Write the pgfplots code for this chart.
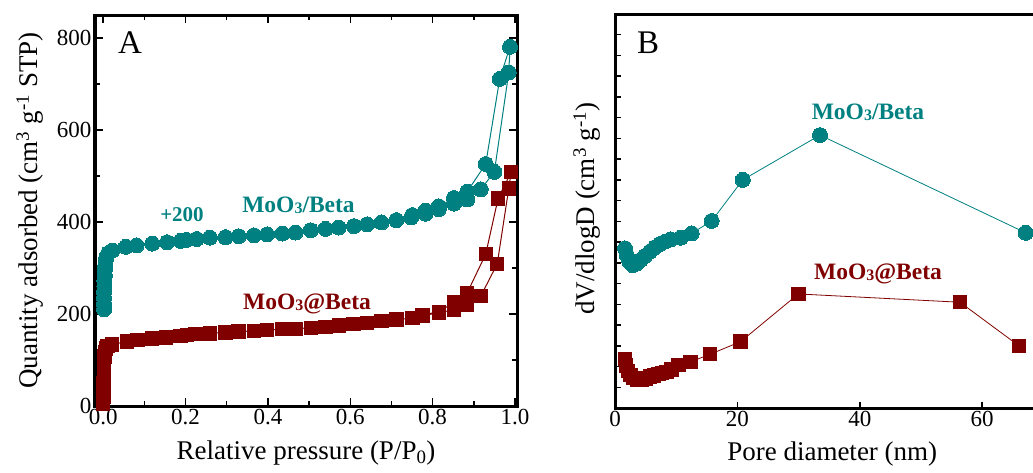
\documentclass[border=0pt]{standalone}
\usepackage{fontspec}
\setmainfont{Liberation Serif}
\usepackage{pgfplots}
\pgfplotsset{compat=1.18}
\definecolor{tealc}{RGB}{0,128,128}
\definecolor{maroonc}{RGB}{128,0,0}
\newcommand{\moo}[1]{\textbf{MoO\raisebox{-1pt}{\fontsize{16}{16}\selectfont 3}#1}}

\pgfplotstableread{
x y
0.002 210
0.002 222
0.002 235
0.002 248
0.003 260
0.003 272
0.004 284
0.004 296
0.005 306
0.006 316
0.008 325
0.012 332
0.022 338
0.055 346
0.081 349
0.119 353
0.155 356
0.188 359
0.202 361
0.227 363
0.259 366
0.297 367
0.329 369
0.366 371
0.398 373
0.435 375
0.467 377
0.504 382
0.540 385
0.572 388
0.609 391
0.641 395
0.676 399
0.712 404
0.748 410
0.783 418
0.815 428
0.852 440
0.884 449
0.917 471
0.950 509
0.985 725
0.988 781
0.963 711
0.929 526
0.884 466
0.852 452
0.815 434
0.783 425
0.751 415
}\tabAbeta

\pgfplotstableread{
x y
0.000 5
0.0005 20
0.001 35
0.001 50
0.0015 65
0.002 80
0.002 95
0.003 108
0.004 118
0.006 125
0.010 130
0.022 134
0.058 140
0.083 143
0.119 147
0.153 149
0.188 152
0.204 154
0.224 156
0.259 158
0.297 160
0.329 162
0.366 163
0.398 165
0.435 167
0.467 168
0.504 170
0.540 172
0.572 175
0.608 178
0.641 181
0.676 185
0.712 188
0.751 191
0.775 196
0.815 203
0.852 209
0.884 220
0.917 239
0.957 309
0.985 473
0.991 509
0.959 451
0.929 330
0.884 246
0.852 225
0.815 205
0.775 198
}\tabAat

\pgfplotstableread{
x y
1.63 7.70
1.91 7.38
2.34 7.06
2.89 6.89
3.54 6.97
4.19 7.14
4.90 7.33
5.72 7.54
6.54 7.75
7.35 7.91
8.17 8.02
9.10 8.13
10.73 8.21
12.53 8.42
15.8 9.02
20.87 11.0
33.5 13.16
67.1 8.45
}\tabBbeta

\pgfplotstableread{
x y
1.63 2.35
1.80 2.05
2.10 1.78
2.50 1.58
3.00 1.45
3.60 1.38
4.36 1.35
5.00 1.42
5.72 1.51
6.40 1.57
7.08 1.64
7.70 1.69
8.44 1.75
9.20 1.85
10.35 2.07
12.36 2.23
15.52 2.59
20.53 3.20
29.96 5.50
56.37 5.10
66.0 3.00
}\tabBat

\begin{document}
\begin{tikzpicture}
\pgfplotsset{
  common/.style={
    scale only axis,
    axis line style={line width=3pt},
    tick style={black, line width=1.5pt},
    tick align=inside,
    major tick length=8pt, minor tick length=5pt,
    tick label style={font=\fontsize{23}{23}\selectfont},
    label style={font=\fontsize{27}{27}\selectfont},
    /pgf/number format/assume math mode=true,
    clip=false,
  },
  tealplot/.style={color=tealc, line width=1pt, mark=*, mark size=7.5pt, mark options={fill=tealc, draw=tealc, line width=0pt}},
  redplot/.style={color=maroonc, line width=1pt, mark=square*, mark size=6.7pt, mark options={fill=maroonc, draw=maroonc, line width=0pt}},
}
\begin{axis}[common,
  at={(95pt,-406pt)}, anchor=south west, width=422pt, height=391pt,
  xmin=-0.02, xmax=1.005, ymin=0, ymax=850,
  xtick={0,0.2,0.4,0.6,0.8,1}, minor xtick={0.1,0.3,0.5,0.7,0.9},
  ytick={0,200,400,600,800}, minor ytick={100,300,500,700},
  xticklabel style={/pgf/number format/.cd, fixed, fixed zerofill, precision=1},
  xlabel={Relative pressure (P/P\textsubscript{0})},
  ylabel={Quantity adsorbed (cm\textsuperscript{3} g\textsuperscript{-1} STP)},
  xlabel style={at={(axis description cs:0.5,-0.138)}, anchor=base},
  ylabel style={at={(axis description cs:-0.154,0.5)}, anchor=center},
]
\addplot[tealplot] table {\tabAbeta};
\addplot[redplot] table {\tabAat};
\end{axis}
\begin{axis}[common,
  at={(615pt,-408pt)}, anchor=south west, width=434.5pt, height=394pt,
  xmin=0, xmax=71, ymin=0, ymax=19,
  major tick length=6pt,
  xtick={0,20,40,60}, ytick={1,2,...,18}, yticklabels={},
  xtick pos=bottom, ytick pos=left,
  xlabel={Pore diameter (nm)},
  ylabel={dV/dlogD (cm\textsuperscript{3} g\textsuperscript{-1})},
  xlabel style={at={(axis description cs:0.5,-0.132)}, anchor=base},
  ylabel style={at={(axis description cs:-0.0644,0.506)}, anchor=center},
]
\addplot[tealplot, line width=0.8pt] table {\tabBbeta};
\addplot[redplot, line width=0.8pt] table {\tabBat};
\end{axis}
\node[inner sep=0, font=\fontsize{33}{33}\selectfont] at (130pt,-42.5pt) {A};
\node[inner sep=0, font=\fontsize{33}{33}\selectfont] at (648pt,-43pt) {B};
\node[inner sep=0, text=tealc, font=\fontsize{21}{21}\selectfont\bfseries] at (182pt,-215pt) {+200};
\node[inner sep=0, text=tealc, font=\fontsize{23.5}{23.5}\selectfont] at (298.5pt,-205pt) {\moo{/Beta}};
\node[inner sep=0, text=maroonc, font=\fontsize{23.5}{23.5}\selectfont] at (307pt,-304pt) {\moo{@Beta}};
\node[inner sep=0, text=tealc, font=\fontsize{23.5}{23.5}\selectfont] at (868pt,-112.5pt) {\moo{/Beta}};
\node[inner sep=0, text=maroonc, font=\fontsize{23.5}{23.5}\selectfont] at (878pt,-274pt) {\moo{@Beta}};
\pgfresetboundingbox
\path[use as bounding box] (0pt,0pt) rectangle (1033pt,-473pt);
\end{tikzpicture}
\end{document}
